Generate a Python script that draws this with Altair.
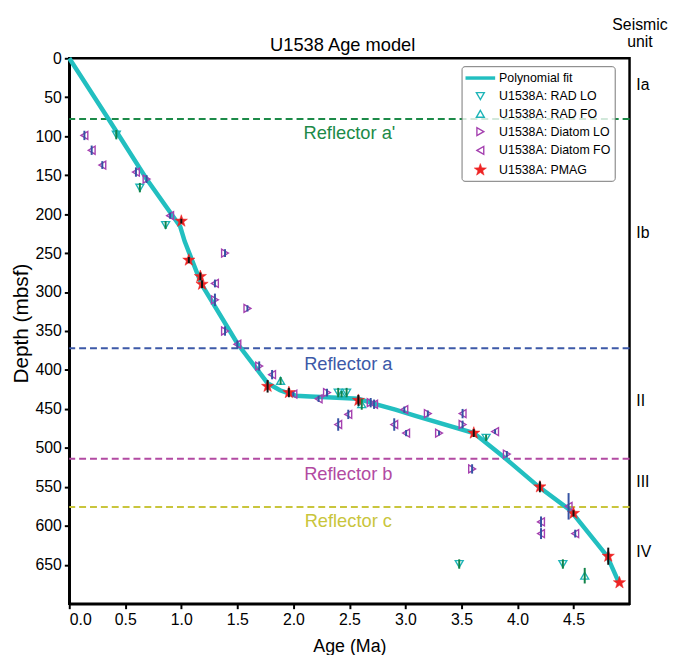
import altair as alt
import pandas as pd

# ---------------- data ----------------
fit_age = [0.0, 0.35, 0.69, 0.99, 1.03, 1.18, 1.5, 1.77, 1.88, 2.02, 2.15, 2.58, 2.74, 2.91, 3.09, 3.61, 3.88, 4.19, 4.47, 4.80, 4.905]
fit_depth = [0, 78, 155, 216, 235, 290, 366, 417, 426, 433, 434, 437, 444, 451, 459, 481, 512, 550, 580, 639, 673]

rad_lo_age = [0.42, 0.63, 0.86, 2.40, 2.475, 3.72, 3.48, 4.405]
rad_lo_depth = [98, 166, 214, 429, 429, 487, 649, 649]
rad_lo_err = [6, 6, 5, 6, 6, 4, 6, 6]

rad_fo_age = [1.886, 2.43, 2.61, 4.60]
rad_fo_depth = [414, 431, 444, 664]
rad_fo_err = [5, 4, 7, 10]

diatom_lo_age = [0.69, 1.39, 1.30, 1.59, 1.39, 1.695, 2.30, 2.69, 3.20, 3.51, 3.30, 3.905, 3.595]
diatom_lo_depth = [155, 250, 310, 321, 350, 395, 429, 442, 456, 470, 481, 508, 527]
diatom_lo_err = [5, 5, 8, 4, 6, 6, 5, 6, 4, 5, 3, 4, 6]

diatom_fo_age = [0.135, 0.20, 0.295, 0.595, 0.90, 1.30, 1.50, 1.81, 2.0, 2.225, 2.72, 2.49, 2.40,
                 2.99, 2.90, 3.006, 3.51, 3.80, 4.456, 4.21, 4.21, 4.515]
diatom_fo_depth = [99, 118, 137, 146, 202, 289, 367, 406, 431, 437, 444, 457, 470,
                   451, 470, 481, 456, 479, 575, 595, 610, 610]
diatom_fo_err = [6, 6, 5, 6, 4, 5, 5, 6, 3, 4, 6, 6, 8,
                 4, 8, 4, 6, 3, 17, 7, 7, 5]

pmag_age = [1.0, 1.067, 1.17, 1.185, 1.77, 1.96, 2.58, 3.61, 4.20, 4.50, 4.81, 4.91]
pmag_depth = [209, 259, 280, 290, 421, 429, 439, 481, 550, 584, 639, 673]
pmag_err = [3, 4, 5, 5, 8, 6, 7, 5, 7, 4, 11, 0]

reflector_names = ["Reflector a'", "Reflector a", "Reflector b", "Reflector c"]
reflector_depths = [78, 372, 514, 576]
reflector_label_age = [2.5, 2.49, 2.49, 2.49]
reflector_label_depth = [96, 392, 533, 594]

seismic_units = ["Ia", "Ib", "II", "III", "IV"]
seismic_depths = [35, 224, 440, 544, 634]
seismic_label_age = 5.06
header_lines = ["Seismic", "unit"]
header_depths = [-42, -21]

chart_title = "U1538 Age model"
title_age = 2.44
title_depth = -17.5

x_ticks = [0.0, 0.5, 1.0, 1.5, 2.0, 2.5, 3.0, 3.5, 4.0, 4.5]
y_ticks = [0, 50, 100, 150, 200, 250, 300, 350, 400, 450, 500, 550, 600, 650]

# ---------------- styles ----------------
FONT = "Liberation Sans"
CYAN = "#22bfc0"
TYPES = ["Polynomial fit", "U1538A: RAD LO", "U1538A: RAD FO",
         "U1538A: Diatom LO", "U1538A: Diatom FO", "U1538A: PMAG"]
STAR = ("M0,-1L0.2351,-0.3236L0.9511,-0.309L0.3804,0.1236L0.5878,0.809L0,0.4"
        "L-0.5878,0.809L-0.3804,0.1236L-0.9511,-0.309L-0.2351,-0.3236Z")
LINE = "M-2.45,0L2.45,0"
shape_range = [LINE, "triangle-down", "triangle-up", "triangle-right", "triangle-left", STAR]
stroke_range = [CYAN, "#1fb5b8", "#1fb5b8", "#a541b0", "#a541b0", "#ee2424"]
fill_range = ["transparent", "transparent", "transparent", "transparent", "transparent", "#ee2424"]
size_range = [150, 64, 64, 64, 64, 170]
sw_range = [3.5, 1.4, 1.4, 1.4, 1.4, 0.5]
bar_colors = {"U1538A: RAD LO": "#12844a", "U1538A: RAD FO": "#12844a",
              "U1538A: Diatom LO": "#3552a3", "U1538A: Diatom FO": "#3552a3",
              "U1538A: PMAG": "#111111"}
reflector_colors = ["#1c8a48", "#3d59a8", "#b24aa2", "#c9c53c"]

# ---------------- tables ----------------
rows = []
for name, ages, depths, errs in [
    (TYPES[1], rad_lo_age, rad_lo_depth, rad_lo_err),
    (TYPES[2], rad_fo_age, rad_fo_depth, rad_fo_err),
    (TYPES[3], diatom_lo_age, diatom_lo_depth, diatom_lo_err),
    (TYPES[4], diatom_fo_age, diatom_fo_depth, diatom_fo_err),
    (TYPES[5], pmag_age, pmag_depth, pmag_err),
]:
    for a, d, e in zip(ages, depths, errs):
        rows.append({"age": a, "depth": d, "lo": d - e, "hi": d + e,
                     "type": name, "barcolor": bar_colors[name]})
pts_df = pd.DataFrame(rows)
fit_df = pd.DataFrame({"age": fit_age, "depth": fit_depth})
refl_df = pd.DataFrame({"depth": reflector_depths, "name": reflector_names,
                        "color": reflector_colors})
refl_lab_df = pd.DataFrame({"age": reflector_label_age, "depth": reflector_label_depth,
                            "name": reflector_names, "color": reflector_colors})
unit_df = pd.DataFrame({"age": [seismic_label_age] * len(seismic_units),
                        "depth": seismic_depths, "name": seismic_units})
head_df = pd.DataFrame({"age": [5.093] * 2, "depth": header_depths, "name": header_lines})
title_df = pd.DataFrame({"age": [title_age], "depth": [title_depth], "name": [chart_title]})

# ---------------- scales / axes ----------------
xs = alt.Scale(domain=[0, 5], nice=False, zero=False)
ys = alt.Scale(domain=[0, 700], reverse=True, nice=False, zero=False)
x_axis = alt.Axis(values=x_ticks, format=".1f", title="Age (Ma)", titleFontSize=18,
                  labelFontSize=16, labelPadding=3, titleY=43, titleBaseline="middle")
y_axis = alt.Axis(values=y_ticks, title="Depth (mbsf)", titleFontSize=21,
                  labelFontSize=16, labelPadding=3, titleX=-48, titleY=268,
                  titleBaseline="middle", titleAlign="center", titleAngle=270)
X = alt.X("age:Q", scale=xs, axis=x_axis)
Y = alt.Y("depth:Q", scale=ys, axis=y_axis)

leg = alt.Legend(title=None, orient="none", legendX=397, legendY=8,
                 labelFont=FONT, labelFontSize=12.5, labelColor="black",
                 padding=4, rowPadding=4, labelOffset=11, symbolOffset=7,
                 strokeColor="#777777", fillColor="rgba(255,255,255,0.8)",
                 cornerRadius=3)

refl = alt.Chart(refl_df).mark_rule(strokeDash=[7, 4], strokeWidth=2).encode(
    y=Y, color=alt.Color("color:N", scale=None))

fit = alt.Chart(fit_df).mark_line(color=CYAN, strokeWidth=4.5).encode(x=X, y=Y)

pts = alt.Chart(pts_df).mark_point(opacity=1, fillOpacity=1).encode(
    x=X, y=Y,
    shape=alt.Shape("type:N", scale=alt.Scale(domain=TYPES, range=shape_range), legend=leg),
    stroke=alt.Stroke("type:N", scale=alt.Scale(domain=TYPES, range=stroke_range), legend=leg),
    fill=alt.Fill("type:N", scale=alt.Scale(domain=TYPES, range=fill_range), legend=leg),
    size=alt.Size("type:N", scale=alt.Scale(type="ordinal", domain=TYPES, range=size_range), legend=leg),
    strokeWidth=alt.StrokeWidth("type:N", scale=alt.Scale(type="ordinal", domain=TYPES, range=sw_range), legend=leg),
)

bars = alt.Chart(pts_df).mark_rule(strokeWidth=2).encode(
    x=X, y=alt.Y("lo:Q", scale=ys, axis=y_axis), y2="hi:Q",
    color=alt.Color("barcolor:N", scale=None))

refl_text = alt.Chart(refl_lab_df).mark_text(font=FONT, fontSize=18.5, baseline="middle").encode(
    x=X, y=Y, text="name:N", color=alt.Color("color:N", scale=None))

unit_text = alt.Chart(unit_df).mark_text(font=FONT, fontSize=16, align="left",
                                         baseline="middle", color="black").encode(
    x=X, y=Y, text="name:N")

head_text = alt.Chart(head_df).mark_text(font=FONT, fontSize=16, align="center",
                                         baseline="middle", color="black").encode(
    x=X, y=Y, text="name:N")

title_text = alt.Chart(title_df).mark_text(font=FONT, fontSize=18.5, align="center",
                                           baseline="middle", color="black").encode(
    x=X, y=Y, text="name:N")

chart = alt.layer(refl, fit, pts, bars, refl_text, unit_text, head_text, title_text).properties(
    width=567, height=552,
    autosize=alt.AutoSizeParams(type="none"),
    padding={"left": 62, "top": 47, "right": 46, "bottom": 48},
).configure_view(stroke="black", strokeWidth=2.5).configure_axis(
    domainColor="black", domainWidth=2.5, tickColor="black", tickWidth=2, tickSize=5,
    labelFont=FONT, titleFont=FONT, labelColor="black", titleColor="black",
    grid=False, titleFontWeight="normal")

chart.save("out.html", embed_options={"renderer": "svg", "actions": False})
